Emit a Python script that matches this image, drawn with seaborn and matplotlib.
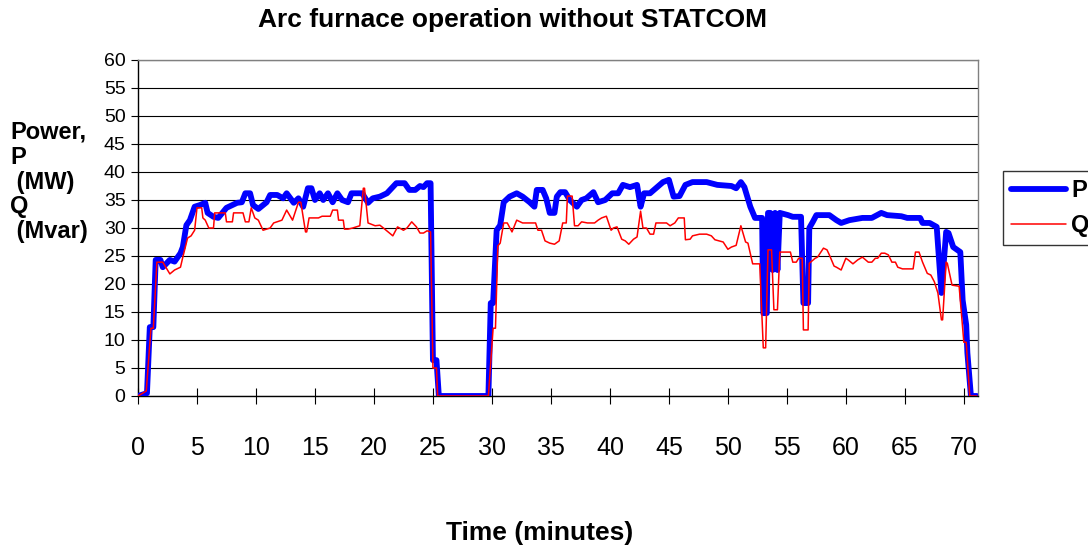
import pandas as pd
import matplotlib.pyplot as plt
import seaborn as sns

# Active power P (MW)
t_p = [0.0, 0.76, 1.0, 1.3, 1.5, 1.9, 2.1, 2.7, 3.1, 3.6, 3.8, 4.1, 4.4, 4.8, 5.25, 5.7, 5.9, 6.4, 6.8, 7.5,
       8.4, 8.8, 9.1, 9.5, 9.75, 10.2, 10.9, 11.2, 11.8, 12.3, 12.6, 13.2, 13.6, 14.0, 14.4, 14.7, 15.0, 15.4, 15.7, 16.1,
       16.5, 16.9, 17.3, 17.8, 18.1, 19.0, 19.5, 19.9, 20.5, 21.1, 21.5, 21.9, 22.6, 23.0, 23.5, 23.9, 24.2, 24.5, 24.8, 25.0,
       25.3, 25.5, 29.7, 29.9, 30.1, 30.4, 30.7, 31.0, 31.5, 32.1, 32.6, 33.2, 33.6, 33.8, 34.3, 34.6, 34.9, 35.3, 35.5, 35.8,
       36.2, 36.6, 37.2, 37.6, 38.0, 38.6, 39.0, 39.6, 40.2, 40.7, 41.1, 41.7, 42.3, 42.6, 42.9, 43.4, 44.0, 44.5, 45.0, 45.4,
       45.9, 46.4, 47.0, 48.2, 49.1, 50.3, 50.7, 51.1, 51.4, 51.9, 52.3, 52.9, 53.0, 53.3, 53.4, 53.6, 53.8, 54.0, 54.2, 54.4,
       55.1, 55.5, 56.2, 56.4, 56.8, 56.9, 57.2, 57.5, 58.6, 59.2, 59.6, 60.3, 61.4, 62.2, 63.0, 63.5, 64.7, 65.2, 66.3, 66.5,
       67.1, 67.7, 68.1, 68.5, 68.7, 69.1, 69.7, 69.9, 70.2, 70.3, 70.6, 71.1]
p_vals = [0, 0.5, 12.3, 12.3, 24.3, 24.3, 23, 24.3, 24, 25.5, 26.6, 30.5, 31.4, 33.8, 34.1, 34.5, 32.7, 32, 31.8, 33.6,
          34.5, 34.6, 36.2, 36.2, 34.1, 33.4, 34.6, 35.9, 35.9, 35.3, 36.2, 34.5, 35.3, 33.8, 37.1, 37.1, 35, 36.2, 35, 36.2,
          34.6, 36.2, 35, 34.6, 36.2, 36.2, 34.5, 35.3, 35.6, 36.2, 37.1, 38.0, 38.0, 36.8, 36.8, 37.5, 37.3, 38.0, 38.0, 6.4,
          6.4, 0, 0, 16.6, 16.6, 29.6, 30.5, 34.6, 35.6, 36.2, 35.6, 34.6, 33.8, 36.8, 36.8, 35.3, 32.7, 32.7, 35.6, 36.4,
          36.4, 35, 33.8, 35, 35.3, 36.4, 34.6, 35, 36.2, 36.2, 37.7, 37.3, 37.7, 33.8, 36.2, 36.2, 37.3, 38.2, 38.6, 35.6,
          35.7, 37.7, 38.2, 38.2, 37.7, 37.5, 37.1, 38.2, 37.3, 33.8, 31.8, 31.8, 14.8, 14.8, 32.7, 32.7, 22.5, 32.7, 22.5, 32.7,
          32.3, 32.0, 32.0, 16.6, 16.6, 30, 31.1, 32.3, 32.3, 31.4, 30.9, 31.4, 31.8, 31.8, 32.7, 32.3, 32.1, 31.8, 31.8, 30.9,
          30.9, 30.2, 18.4, 29.3, 29.1, 26.6, 25.7, 17.1, 12.7, 7.7, 0, 0]

# Reactive power Q (Mvar)
t_q = [0, 0.7, 1.1, 1.3, 1.6, 2.1, 2.7, 3.1, 3.6, 3.8, 4.2, 4.5, 4.8, 5.0, 5.4, 5.5, 5.7, 6.0, 6.4, 6.5,
       7.4, 7.5, 8.0, 8.1, 8.9, 9.1, 9.4, 9.6, 9.9, 10.2, 10.6, 11.2, 11.5, 12.2, 12.6, 13.1, 13.6, 13.8, 14.2, 14.3,
       14.5, 15.3, 15.6, 16.3, 16.5, 16.9, 17.0, 17.4, 17.5, 17.8, 18.2, 18.8, 19.1, 19.2, 19.5, 20.1, 20.5, 20.8, 21.2, 21.6,
       22.0, 22.5, 22.8, 23.2, 23.6, 23.9, 24.2, 24.5, 24.8, 25.0, 25.3, 25.4, 29.7, 30.1, 30.3, 30.5, 30.7, 31.0, 31.3, 31.7,
       32.1, 32.6, 33.7, 33.9, 34.2, 34.5, 34.9, 35.3, 35.7, 36.0, 36.3, 36.4, 36.8, 37.0, 37.3, 37.6, 38.1, 38.7, 39.0, 39.3,
       39.7, 40.1, 40.3, 40.6, 41.0, 41.3, 41.6, 42.0, 42.3, 42.6, 42.8, 43.1, 43.4, 43.7, 43.9, 44.8, 45.1, 45.5, 45.8, 46.3,
       46.4, 46.8, 47.0, 47.6, 48.2, 48.6, 48.9, 49.6, 50.0, 50.3, 50.7, 51.1, 51.5, 51.7, 52.1, 52.7, 53.0, 53.2, 53.4, 53.7,
       53.9, 54.2, 54.4, 55.3, 55.5, 55.8, 56.0, 56.3, 56.4, 56.8, 56.9, 57.4, 57.6, 58.1, 58.4, 58.6, 59.0, 59.2, 59.6, 60.0,
       60.2, 60.6, 61.0, 61.4, 61.9, 62.2, 62.5, 62.7, 63.0, 63.3, 63.6, 63.9, 64.2, 64.4, 64.8, 65.7, 65.9, 66.2, 66.5, 66.9,
       67.2, 67.5, 67.8, 68.1, 68.2, 68.5, 68.6, 69.0, 69.6, 70.0, 70.2, 70.5, 71.1]
q_vals = [0, 0.9, 12.1, 12.1, 23.9, 23.9, 21.8, 22.5, 23, 24.8, 28.2, 28.6, 29.6, 33.6, 33.6, 31.8, 31.4, 30, 30, 32.7,
          32.7, 31.1, 31.1, 32.7, 32.7, 31.1, 31.1, 33.6, 31.8, 31.4, 29.6, 30, 30.9, 31.4, 33.2, 31.4, 34.6, 34.6, 29.3, 29.3,
          31.8, 31.8, 32.1, 32.1, 33.2, 33.2, 31.4, 31.4, 29.8, 29.8, 30, 30.4, 37.1, 37.1, 30.9, 30.4, 30.5, 30, 29.3, 28.6,
          30.2, 29.6, 30, 31.1, 30.2, 29.1, 29.1, 29.5, 29.3, 5.0, 5.0, 0, 0, 12.1, 12.1, 26.8, 27.3, 30.9, 30.9, 29.3,
          31.4, 30.9, 30.9, 29.6, 29.6, 27.7, 27.3, 27.1, 27.7, 30.9, 30.9, 35.7, 35.7, 30.4, 30.4, 31.1, 30.9, 30.9, 31.4, 31.8,
          32.1, 29.6, 30, 30.2, 28.0, 27.7, 27.1, 28.0, 28.4, 33.0, 30, 30, 28.9, 28.9, 30.9, 30.9, 30.4, 30.9, 31.8, 31.8,
          27.9, 28.0, 28.6, 28.9, 28.9, 28.6, 27.9, 27.5, 26.2, 26.6, 26.9, 30.4, 27.5, 27.3, 23.6, 23.6, 8.6, 8.6, 26.1, 26.1,
          15.4, 15.4, 25.7, 25.7, 23.9, 23.9, 24.6, 24.6, 11.8, 11.8, 23.7, 24.6, 24.8, 26.4, 26.1, 25.2, 23.2, 23, 22.5, 24.6,
          24.3, 23.6, 24.3, 24.8, 23.9, 23.9, 24.6, 24.6, 25.5, 25.5, 25.2, 23.9, 23.9, 23, 22.7, 22.7, 25.7, 25.7, 23.9, 21.9,
          21.6, 20.4, 18.4, 13.6, 13.6, 23.9, 23.7, 19.8, 19.6, 9.6, 9.6, 0, 0]

x_ticks = list(range(0, 75, 5))
y_ticks = list(range(0, 65, 5))

sns.set_theme(style="white")
plt.rcParams['font.family'] = ['Liberation Sans', 'DejaVu Sans']
plt.rcParams['text.color'] = 'black'
plt.rcParams['xtick.color'] = 'black'
plt.rcParams['ytick.color'] = 'black'
plt.rcParams['axes.labelcolor'] = 'black'

fig = plt.figure(figsize=(10.88, 5.48), dpi=100)
ax = fig.add_axes([138 / 1088, 1 - 396 / 548, (978 - 138) / 1088, (396 - 60) / 548])

df_p = pd.DataFrame({'time': t_p, 'value': p_vals})
df_q = pd.DataFrame({'time': t_q, 'value': q_vals})

sns.lineplot(data=df_p, x='time', y='value', color='#0000ff', linewidth=4.2, estimator=None, sort=False,
             label='P', ax=ax, zorder=3)
sns.lineplot(data=df_q, x='time', y='value', color='#ff0000', linewidth=1.1, estimator=None, sort=False,
             label='Q', ax=ax, zorder=4)

ax.set_xlim(0, 71.2)
ax.set_ylim(0, 60)
ax.set_yticks(y_ticks)
ax.set_xticks(x_ticks)
ax.set_xticklabels([str(v) for v in x_ticks])
ax.yaxis.grid(True, color='black', linewidth=0.8)
ax.xaxis.grid(False)
ax.set_axisbelow(True)
ax.set_xlabel('')
ax.set_ylabel('')

for side in ['left', 'bottom']:
    ax.spines[side].set_color('black')
    ax.spines[side].set_linewidth(1.0)
for side in ['top', 'right']:
    ax.spines[side].set_color('#808080')
    ax.spines[side].set_linewidth(1.0)

ax.tick_params(axis='y', direction='out', length=5, width=0.8, colors='black', labelsize=14, pad=4, left=True)
ax.tick_params(axis='x', direction='inout', length=12, width=0.8, colors='black', labelsize=18, pad=23, bottom=True)

fig.text(513 / 1088, 1 - 20 / 548, 'Arc furnace operation without STATCOM', ha='center', va='center',
         fontsize=19, fontweight='bold', color='black')
fig.text(540 / 1088, 1 - 533 / 548, 'Time (minutes)', ha='center', va='center', fontsize=19,
         fontweight='bold', color='black')
fig.text(10 / 1088, 1 - 182 / 548, 'Power,\nP\n (MW)\nQ\n (Mvar)', ha='left', va='center',
         fontsize=17, fontweight='bold', linespacing=1.1, multialignment='left', color='black')

ax.get_legend().remove()
leg = fig.legend(loc='upper left', bbox_to_anchor=(1003 / 1088, 1 - 171 / 548), frameon=True,
                 prop={'weight': 'bold', 'size': 17}, handlelength=2.3, handletextpad=0.25,
                 labelspacing=0.5, borderpad=0.35, borderaxespad=0, fancybox=False)
leg.get_frame().set_edgecolor('black')
leg.get_frame().set_linewidth(1.0)
for txt in leg.get_texts():
    txt.set_color('black')

plt.savefig('out.png', dpi=100)
